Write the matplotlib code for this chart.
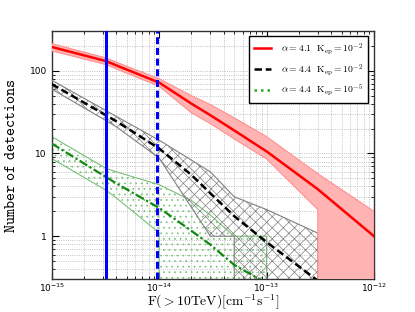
import numpy as np
import matplotlib
matplotlib.use('Agg')
import matplotlib.pyplot as plt
from matplotlib.ticker import FuncFormatter, NullFormatter

plt.rcParams['mathtext.fontset'] = 'cm'
plt.rcParams['hatch.linewidth'] = 0.5

# flux grid [cm^-1 s^-1]
flux = [1e-15, 3.2e-15, 4e-15, 1e-14, 2e-14, 3e-14, 5e-14, 1e-13, 3e-13, 1e-12]

# alpha=4.1, Kep=1e-2
red_mid = [194, 131, 116, 72, 40, 29, 19, 10.6, 3.7, 1.0]
red_hi = [213, 143, 127, 80, 50, 39, 27, 16, 5.7, 2.0]
red_lo = [174, 119, 105, 65, 31, 23, 15, 8.6, 2.1, 0]

# alpha=4.4, Kep=1e-2
blk_mid = [69, 29, 24.5, 11.5, 5.5, 3.3, 1.75, 0.85, 0.29, 0]
blk_hi = [77, 33, 28, 14.5, 8.3, 6.0, 3.0, 2.1, 1.09, 0]
blk_lo = [60, 25, 21, 8.8, 2.23, 1.0, 1.0, 0, 0, 0]

# alpha=4.4, Kep=1e-5
grn_mid = [13.2, 5.2, 4.35, 2.2, 1.16, 0.79, 0.45, 0.27, 0, 0]
grn_hi = [16, 6.6, 6.0, 4.2, 2.7, 1.8, 1.0, 1.0, 0, 0]
grn_lo = [8.7, 3.6, 2.9, 1.1, 0, 0, 0, 0, 0, 0]

# sensitivity thresholds
thr_solid = 3.2e-15
thr_dashed = 9.5e-15

xticks = [1e-15, 1e-14, 1e-13, 1e-12]
yticks = [1, 10, 100]

labels = [r'$\alpha=4.1\ \ \mathrm{K_{ep}}=10^{-2}$',
          r'$\alpha=4.4\ \ \mathrm{K_{ep}}=10^{-2}$',
          r'$\alpha=4.4\ \ \mathrm{K_{ep}}=10^{-5}$']

fig = plt.figure(figsize=(4.15, 3.12), dpi=100)
ax = fig.add_axes([0.1246, 0.1042, 0.7766, 0.7955])
ax.set_xscale('log')
ax.set_yscale('log')

# bands
ax.fill_between(flux, grn_lo, grn_hi, facecolor='none', edgecolor='#77c077',
                hatch='...', linewidth=0.8, zorder=2)
ax.fill_between(flux, blk_lo, blk_hi, facecolor='none', edgecolor='#808080',
                hatch='xxx', linewidth=0.8, zorder=3)
ax.fill_between(flux, red_lo, red_hi, facecolor='#ffb3b3', edgecolor='#ff9090',
                linewidth=0.8, zorder=4)

# central lines
ax.plot(flux, red_mid, color='red', lw=1.8, zorder=6, label=labels[0])
ax.plot(flux, blk_mid, color='black', lw=1.8, ls=(0, (3, 1.5)), zorder=6, label=labels[1])
ax.plot(flux, grn_mid, color='#118811', lw=1.6, ls=(0, (4, 1.2, 1, 1.2)), zorder=6)
# legend proxy for green (dotted)
ax.plot([], [], color='#22aa22', lw=1.8, ls=(0, (1, 1.6)), label=labels[2])

ax.axvline(thr_solid, color='#0000ff', lw=2.2, zorder=7)
ax.axvline(thr_dashed, color='#0000ff', lw=2.2, ls=(0, (2.3, 1.2)), zorder=7)

ax.set_xlim(1e-15, 1e-12)
ax.set_ylim(0.3, 300)
ax.set_xticks(xticks)
ax.set_yticks(yticks)

ax.yaxis.set_major_formatter(FuncFormatter(lambda v, p: '%g' % v))
ax.yaxis.set_minor_formatter(NullFormatter())
ax.xaxis.set_minor_formatter(NullFormatter())
ax.tick_params(which='both', direction='in', top=True, right=True, labelsize=6.5)
ax.tick_params(axis='x', pad=1.5)
ax.tick_params(which='major', length=5, width=0.8)
ax.tick_params(which='minor', length=2.5, width=0.6)
ax.grid(True, which='both', ls=':', color='#b0b0b0', lw=0.6)
ax.set_axisbelow(True)
for s in ax.spines.values():
    s.set_linewidth(1.0)
    s.set_color('#333333')

ax.set_xlabel(r'$\mathrm{F(>10TeV)[cm^{-1}s^{-1}]}$', fontsize=9.8, labelpad=-0.8)
ax.set_ylabel(r'$\mathtt{Number\ of\ detections}$', fontsize=11, labelpad=8)

leg = ax.legend(loc='upper right', bbox_to_anchor=(0.981, 0.981), borderaxespad=0,
                fontsize=7, fancybox=False, edgecolor='black', framealpha=1,
                handlelength=1.75, labelspacing=0.55, borderpad=0.5, handletextpad=1.0)
leg.get_frame().set_linewidth(1.0)

fig.savefig('out.png', dpi=100)
